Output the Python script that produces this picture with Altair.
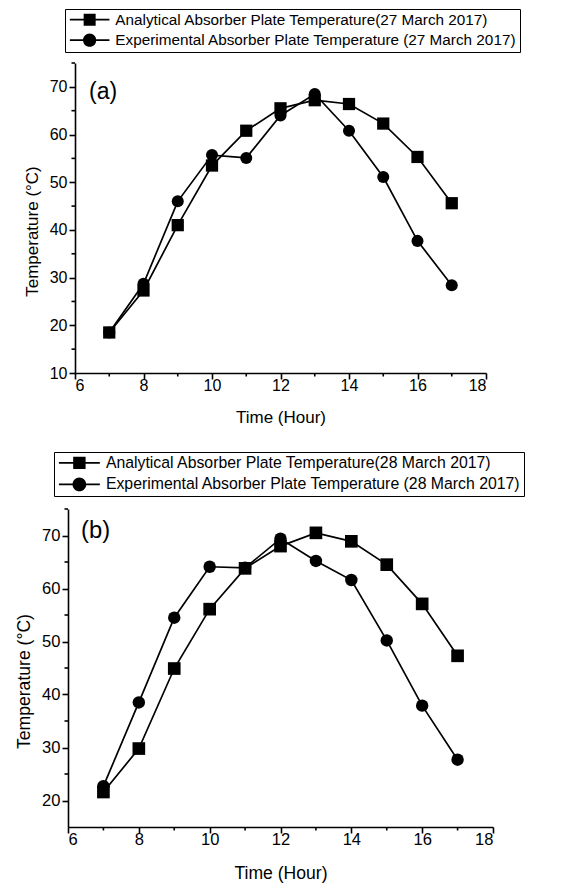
import altair as alt
import pandas as pd

# ---- data ----
hours = [7, 8, 9, 10, 11, 12, 13, 14, 15, 16, 17]
a_analytical = [18.5, 27.3, 41.0, 53.5, 60.8, 65.5, 67.2, 66.4, 62.3, 55.3, 45.6]
a_experimental = [18.5, 28.7, 46.0, 55.7, 55.1, 64.0, 68.5, 60.8, 51.1, 37.7, 28.4]
b_analytical = [21.6, 29.8, 44.9, 56.1, 63.8, 68.0, 70.5, 68.9, 64.5, 57.1, 47.3]
b_experimental = [22.7, 38.5, 54.5, 64.1, 63.9, 69.4, 65.2, 61.6, 50.2, 37.9, 27.7]
x_major = [6, 8, 10, 12, 14, 16, 18]
x_minor = [7, 9, 11, 13, 15, 17]
a_y_major = [10, 20, 30, 40, 50, 60, 70]
a_y_minor = [15, 25, 35, 45, 55, 65, 75]
b_y_major = [20, 30, 40, 50, 60, 70]
b_y_minor = [25, 35, 45, 55, 65, 75]

FONT = "Liberation Sans"
SQ_PATH = "M-3.3,-0.14L3.3,-0.14L3.3,0.14L-3.3,0.14Z M-1,-1L1,-1L1,1L-1,1Z"
CI_PATH = ("M-3.3,-0.14L3.3,-0.14L3.3,0.14L-3.3,0.14Z "
           "M1.1,0A1.1,1.1,0,1,1,-1.1,0A1.1,1.1,0,1,1,1.1,0Z")


def panel(tag, date, analytical, experimental, y_domain, y_major, y_minor, width, height,
          legend_x, legend_y, tag_x, tag_y, title_y, s):
    names = [f"Analytical Absorber Plate Temperature({date})",
             f"Experimental Absorber Plate Temperature ({date})"]
    df = pd.DataFrame({
        "hour": hours + hours,
        "temp": analytical + experimental,
        "series": [names[0]] * len(hours) + [names[1]] * len(hours),
    })
    x_axis = alt.Axis(values=x_major, tickSize=6, labelPadding=-2, title="Time (Hour)",
                      labelFontSize=16 * s, titleFontSize=17 * s, titlePadding=16.5)
    y_axis = alt.Axis(values=y_major, tickSize=6, labelPadding=2, title="Temperature (°C)",
                      titleY=title_y, labelFontSize=16 * s, titleFontSize=17 * s,
                      titlePadding=8)
    x = alt.X("hour:Q", scale=alt.Scale(domain=[6, 18], nice=False, zero=False), axis=x_axis)
    y = alt.Y("temp:Q", scale=alt.Scale(domain=y_domain, nice=False, zero=False), axis=y_axis)
    base = alt.Chart(df)
    lines = base.mark_line(color="black", strokeWidth=1.7).encode(x=x, y=y, detail="series:N")
    squares = base.transform_filter(alt.datum.series == names[0]).mark_square(
        size=150 * s * s, color="black", opacity=1).encode(x=x, y=y)
    circles = base.transform_filter(alt.datum.series == names[1]).mark_circle(
        size=145 * s * s, color="black", opacity=1).encode(x=x, y=y)

    # minor ticks
    xmin_df = pd.DataFrame({"hour": x_minor})
    x_minor_ticks = alt.Chart(xmin_df).mark_rule(color="black", strokeWidth=1.6).encode(
        x=x, y=alt.value(height), y2=alt.value(height + 3.5))
    ymin_df = pd.DataFrame({"temp": y_minor})
    y_minor_ticks = alt.Chart(ymin_df).mark_rule(color="black", strokeWidth=1.6).encode(
        y=y, x=alt.value(0), x2=alt.value(-3.5))

    legend_layer = base.transform_filter("false").mark_point(
        filled=True, size=144 * s * s, color="black", opacity=1).encode(
        x=x, y=y,
        shape=alt.Shape("series:N",
                        scale=alt.Scale(domain=names, range=[SQ_PATH, CI_PATH]),
                        legend=alt.Legend(
                            title=None, orient="none", legendX=legend_x, legendY=legend_y,
                            strokeColor="black", padding=3, rowPadding=4.5,
                            labelFont=FONT, labelFontSize=15.3 * s, labelColor="black",
                            labelLimit=0, symbolSize=144 * s * s,
                            symbolOffset=14 * s, labelOffset=18 * s,
                            symbolFillColor="black", symbolStrokeWidth=0,
                            symbolOpacity=1,
                        )))
    tag_df = pd.DataFrame({"t": [tag]})
    tag_text = alt.Chart(tag_df).mark_text(
        align="left", baseline="middle", font=FONT, fontSize=23 * s, color="black").encode(
        text="t:N", x=alt.value(tag_x), y=alt.value(tag_y))
    return alt.layer(lines, squares, circles, x_minor_ticks, y_minor_ticks,
                     legend_layer, tag_text).properties(width=width, height=height)


pa = panel("(a)", "27 March 2017", a_analytical, a_experimental, [10, 75],
           a_y_major, a_y_minor, 411, 310, -10, -54, 14, 29, 168, 1.0)
pb = panel("(b)", "28 March 2017", b_analytical, b_experimental, [15, 75],
           b_y_major, b_y_minor, 425, 318, -14, -57, 13, 22, 172, 1.034)

chart = alt.vconcat(pa, pb, spacing=136, center=True, bounds="flush").resolve_scale(
    x="independent", y="independent", shape="independent"
).properties(
    padding={"left": 15, "top": 8, "right": 5, "bottom": 5}
).configure_view(stroke=None).configure_axis(
    grid=False, domainColor="black", domainWidth=1.6, tickColor="black", tickWidth=1.6,
    labelFont=FONT, labelColor="black",
    titleFont=FONT, titleFontWeight="normal", titleColor="black",
)

chart.save("out.html", embed_options={"renderer": "svg", "actions": False})
